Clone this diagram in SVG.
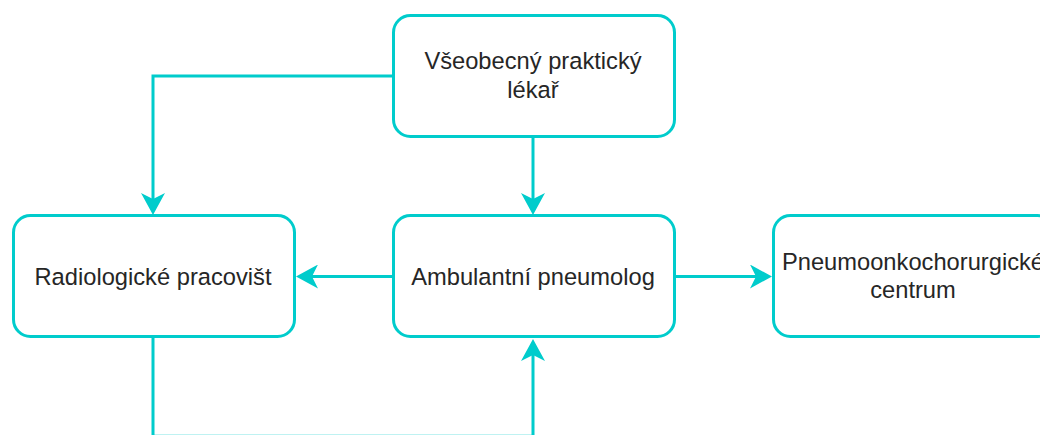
<svg xmlns="http://www.w3.org/2000/svg" width="1040" height="435" viewBox="0 0 1040 435">
  <style>
    .box { fill: #ffffff; stroke: #00CCCC; stroke-width: 3; }
    .lbl { font-family: "Liberation Sans", Arial, sans-serif; font-size: 23.7px; fill: #262626; text-anchor: middle; }
    .edge { fill: none; stroke: #00CCCC; stroke-width: 3; }
  </style>
  <defs>
    <marker id="arrow" viewBox="0 0 22 24" refX="6" refY="12" markerWidth="22" markerHeight="24" markerUnits="userSpaceOnUse" orient="auto">
      <path d="M0,0 L22,12 L0,24 L6,12 Z" fill="#00CCCC"/>
    </marker>
  </defs>
  <rect width="1040" height="435" fill="#ffffff"/>
  <g id="connectors">
    <path class="edge" d="M393.5,76 L153,76 L153,199" marker-end="url(#arrow)"/>
    <path class="edge" d="M533,136.5 L533,199" marker-end="url(#arrow)"/>
    <path class="edge" d="M393.5,276.5 L312,276.5" marker-end="url(#arrow)"/>
    <path class="edge" d="M674.5,276.5 L756,276.5" marker-end="url(#arrow)"/>
    <path class="edge" d="M153,336.5 L153,436.2 L533,436.2 L533,355" marker-end="url(#arrow)"/>
  </g>
  <g id="node-vpl">
    <rect class="box" x="393.5" y="15.5" width="281" height="121" rx="17"/>
    <text class="lbl" x="533" y="69">Všeobecný praktický</text>
    <text class="lbl" x="533" y="98">lékař</text>
  </g>
  <g id="node-radiologie">
    <rect class="box" x="13.5" y="215.5" width="281" height="121" rx="17"/>
    <text class="lbl" x="153" y="284.5">Radiologické pracovišt</text>
  </g>
  <g id="node-pneumolog">
    <rect class="box" x="393.5" y="215.5" width="281" height="121" rx="17"/>
    <text class="lbl" x="533" y="284.5">Ambulantní pneumolog</text>
  </g>
  <g id="node-centrum">
    <rect class="box" x="773.5" y="215.5" width="281" height="121" rx="17"/>
    <text class="lbl" x="913" y="269.5">Pneumoonkochorurgické</text>
    <text class="lbl" x="913" y="298">centrum</text>
  </g>
</svg>
